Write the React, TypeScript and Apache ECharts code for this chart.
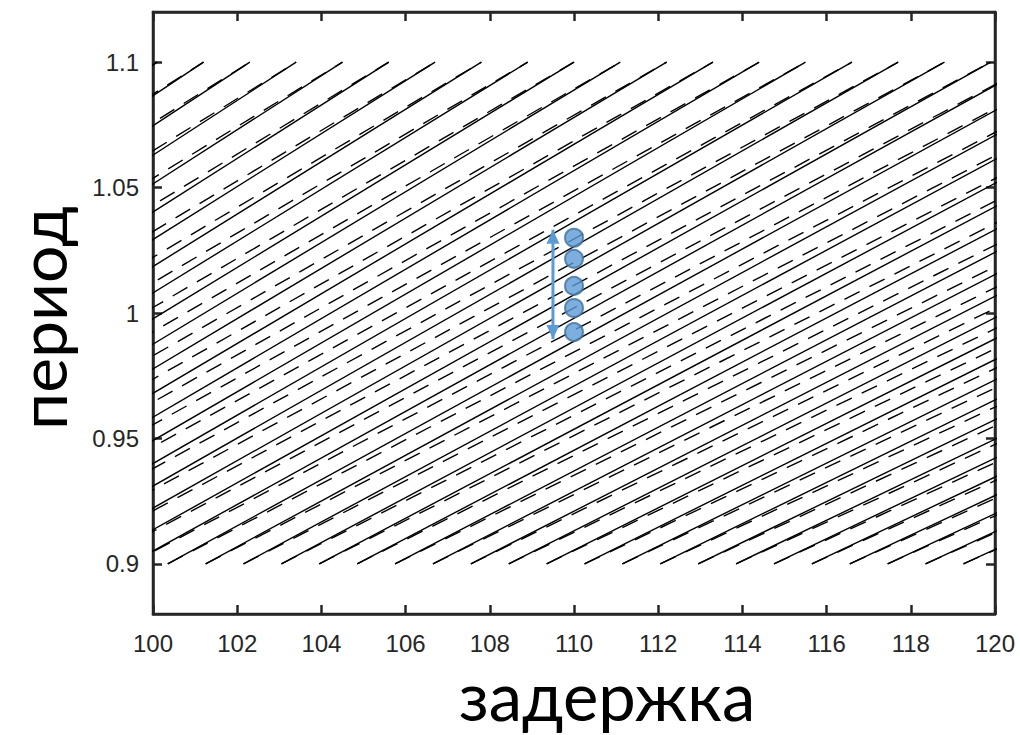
import React, { useEffect, useRef } from "react";
import * as echarts from "echarts";

// Period range covered by every resonance line
const periodBounds = [0.9, 1.1];
// x (delay) where each line family meets the bottom edge (period 0.9)
const bottomX = [
  81.45, 82.35, 83.25, 84.15, 85.05, 85.95, 86.85, 87.75, 88.65, 89.55,
  90.45, 91.35, 92.25, 93.15, 94.05, 94.95, 95.85, 96.75, 97.65, 98.55,
  99.45, 100.35, 101.25, 102.15, 103.05, 103.95, 104.85, 105.75, 106.65, 107.55,
  108.45, 109.35, 110.25, 111.15, 112.05, 112.95, 113.85, 114.75, 115.65, 116.55,
  117.45, 118.35, 119.25,
];
// x (delay) where lines meet the top edge (period 1.1)
const topX = [
  99.0, 100.1, 101.2, 102.3, 103.4, 104.5, 105.6, 106.7, 107.8, 108.9,
  110.0, 111.1, 112.2, 113.3, 114.4, 115.5, 116.6, 117.7, 118.8, 119.9,
  121.0, 122.1, 123.2, 124.3, 125.4, 126.5, 127.6, 128.7, 129.8, 130.9,
  132.0, 133.1, 134.2, 135.3, 136.4, 137.5, 138.6, 139.7, 140.8, 141.9,
  143.0, 144.1, 145.2, 146.3,
];
const xTicks = [100, 102, 104, 106, 108, 110, 112, 114, 116, 118, 120];
const yTicks = [0.9, 0.95, 1, 1.05, 1.1];
const pointDelay = 110;
const pointPeriods = [1.03, 1.0216, 1.0108, 1.002, 0.9924];
const arrowDelay = 109.5;
const arrowPeriods = [0.9896, 1.0332];

const AXIS = "#262626";
const BLUE = "#5b9bd5";
const TICK_FONT = "Liberation Sans, Arial, sans-serif";
const TITLE_FONT = '67px Lato, "Open Sans", sans-serif';
const YTITLE_FONT = '66px Lato, "Open Sans", sans-serif';

export default function App() {
  const ref = useRef<HTMLDivElement>(null);
  useEffect(() => {
    if (!ref.current) return;
    const chart = echarts.init(ref.current, undefined, { renderer: "svg" });
    const series: any[] = [];
    for (let i = 0; i < bottomX.length; i++) {
      series.push({
        type: "line",
        data: [
          [bottomX[i], periodBounds[0]],
          [topX[i], periodBounds[1]],
        ],
        showSymbol: false,
        symbol: "none",
        silent: true,
        clip: true,
        lineStyle: { color: "#000", width: 1.4 },
      });
      series.push({
        type: "line",
        data: [
          [bottomX[i], periodBounds[0]],
          [topX[i + 1], periodBounds[1]],
        ],
        showSymbol: false,
        symbol: "none",
        silent: true,
        clip: true,
        lineStyle: { color: "#000", width: 1.4, type: [17, 11] },
      });
    }
    series.push({
      type: "line",
      data: [
        { value: [arrowDelay, arrowPeriods[0]], symbolRotate: 180, symbolOffset: [0, -7] },
        { value: [arrowDelay, arrowPeriods[1]], symbolRotate: 0, symbolOffset: [0, 7] },
      ],
      symbol: "triangle",
      symbolSize: [13, 14],
      showSymbol: true,
      itemStyle: { color: BLUE, borderWidth: 0 },
      lineStyle: { color: BLUE, width: 3 },
      clip: false,
      z: 5,
    });
    series.push({
      type: "scatter",
      data: pointPeriods.map((p) => [pointDelay, p]),
      symbolSize: 18,
      itemStyle: { color: BLUE, borderColor: "#41719c", borderWidth: 2 },
      z: 6,
    });

    const axisLine = { show: true, lineStyle: { color: AXIS, width: 2.5 } };
    chart.setOption({
      animation: false,
      backgroundColor: "#fff",
      grid: {
        left: 153,
        right: 25,
        top: 12,
        bottom: 121,
        show: true,
        borderColor: AXIS,
        borderWidth: 2.5,
        backgroundColor: "transparent",
      },
      xAxis: [
        {
          type: "value",
          min: 100,
          max: 120,
          interval: 2,
          position: "bottom",
          axisLine,
          axisTick: { show: true, inside: true, length: 9, lineStyle: { color: AXIS, width: 2.5 } },
          axisLabel: {
            color: AXIS,
            fontFamily: TICK_FONT,
            fontSize: 24,
            margin: 17,
            customValues: xTicks,
          },
          splitLine: { show: false },
        },
        {
          type: "value",
          min: 100,
          max: 120,
          interval: 2,
          position: "top",
          axisLine,
          axisTick: { show: true, inside: true, length: 9, lineStyle: { color: AXIS, width: 2.5 } },
          axisLabel: { show: false },
          splitLine: { show: false },
        },
      ],
      yAxis: [
        {
          type: "value",
          min: 0.88,
          max: 1.12,
          position: "left",
          axisLine,
          axisTick: {
            show: true,
            inside: true,
            length: 9,
            customValues: yTicks,
            lineStyle: { color: AXIS, width: 2.5 },
          },
          axisLabel: {
            color: AXIS,
            fontFamily: TICK_FONT,
            fontSize: 24,
            margin: 14,
            customValues: yTicks,
            formatter: (v: number) => String(Math.round(v * 100) / 100),
          },
          splitLine: { show: false },
        },
        {
          type: "value",
          min: 0.88,
          max: 1.12,
          position: "right",
          axisLine,
          axisTick: {
            show: true,
            inside: true,
            length: 9,
            customValues: yTicks,
            lineStyle: { color: AXIS, width: 2.5 },
          },
          axisLabel: { show: false },
          splitLine: { show: false },
        },
      ],
      graphic: [
        {
          type: "text",
          x: 607,
          y: 695,
          style: {
            text: "задержка",
            font: TITLE_FONT,
            fill: "#000",
            align: "center",
            verticalAlign: "middle",
          },
        },
        {
          type: "text",
          x: 41,
          y: 318,
          rotation: Math.PI / 2,
          style: {
            text: "период",
            font: YTITLE_FONT,
            fill: "#000",
            align: "center",
            verticalAlign: "middle",
          },
        },
      ],
      series,
    });
    return () => chart.dispose();
  }, []);
  return <div ref={ref} style={{ width: 1020, height: 735, position: "absolute", left: 0, top: 0 }} />;
}
